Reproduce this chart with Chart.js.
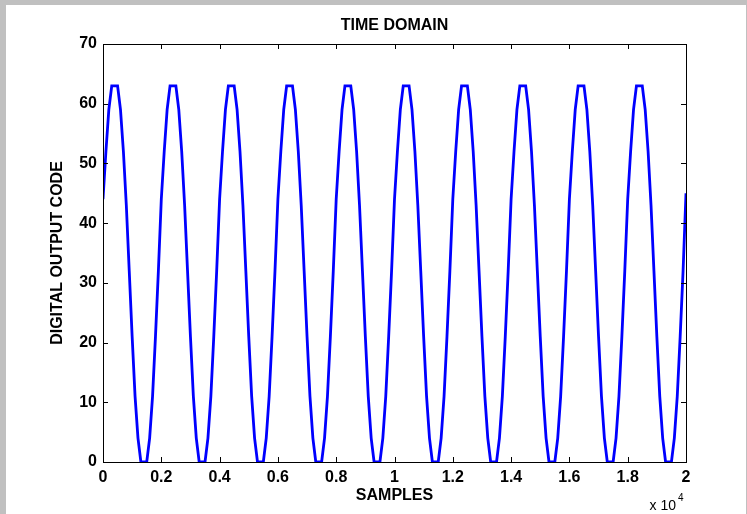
<!DOCTYPE html>
<html>
<head>
<meta charset="utf-8">
<script src="https://cdn.jsdelivr.net/npm/chart.js@4.4.1/dist/chart.umd.min.js"></script>
<style>
  html, body { margin: 0; padding: 0; }
  body { width: 747px; height: 514px; background: #c0c0c0; position: relative; overflow: hidden; }
  #wrap { position: absolute; left: 6px; top: 5px; width: 740px; height: 509px; background: #fff; }
</style>
</head>
<body>
<div id="wrap"><canvas id="grafico" width="740" height="509"></canvas></div>
<script>
// codes, one every 100 samples (10 cycles of 2000 samples)
const sampleStep = 100;
const codes = [
  44,52,59,63,63,63,59,52,43,32,21,11,4,0,0,0,4,11,21,32,
  44,52,59,63,63,63,59,52,43,32,21,11,4,0,0,0,4,11,21,32,
  44,52,59,63,63,63,59,52,43,32,21,11,4,0,0,0,4,11,21,32,
  44,52,59,63,63,63,59,52,43,32,21,11,4,0,0,0,4,11,21,32,
  44,52,59,63,63,63,59,52,43,32,21,11,4,0,0,0,4,11,21,32,
  44,52,59,63,63,63,59,52,43,32,21,11,4,0,0,0,4,11,21,32,
  44,52,59,63,63,63,59,52,43,32,21,11,4,0,0,0,4,11,21,32,
  44,52,59,63,63,63,59,52,43,32,21,11,4,0,0,0,4,11,21,32,
  44,52,59,63,63,63,59,52,43,32,21,11,4,0,0,0,4,11,21,32,
  44,52,59,63,63,63,59,52,43,32,21,11,4,0,0,0,4,11,21,32,
  45
];
const xTicks = [0, 2000, 4000, 6000, 8000, 10000, 12000, 14000, 16000, 18000, 20000];
const yTicks = [0, 10, 20, 30, 40, 50, 60, 70];
const titulo = 'TIME DOMAIN';

const fonte = 'Arial, "Liberation Sans", sans-serif';

// caixa estilo matlab, ticks para dentro, titulo e o "x 10^4"
const caixa = {
  id: 'caixa',
  afterDraw(chart) {
    const { ctx, chartArea: a, scales } = chart;
    ctx.save();
    ctx.strokeStyle = '#000';
    ctx.lineWidth = 1;
    ctx.strokeRect(Math.round(a.left) + 0.5, Math.round(a.top) + 0.5,
                   Math.round(a.right - a.left), Math.round(a.bottom - a.top));
    ctx.beginPath();
    xTicks.forEach(v => {
      const px = Math.round(scales.x.getPixelForValue(v)) + 0.5;
      ctx.moveTo(px, a.bottom); ctx.lineTo(px, a.bottom - 5);
      ctx.moveTo(px, a.top); ctx.lineTo(px, a.top + 5);
    });
    yTicks.forEach(v => {
      const py = Math.round(scales.y.getPixelForValue(v)) + 0.5;
      ctx.moveTo(a.left, py); ctx.lineTo(a.left + 5, py);
      ctx.moveTo(a.right, py); ctx.lineTo(a.right - 5, py);
    });
    ctx.stroke();

    ctx.fillStyle = '#000';
    ctx.textAlign = 'center';
    ctx.textBaseline = 'middle';
    ctx.font = 'bold 16px ' + fonte;
    ctx.fillText(titulo, (a.left + a.right) / 2, 21);

    ctx.textAlign = 'right';
    ctx.textBaseline = 'alphabetic';
    ctx.font = '14px ' + fonte;
    ctx.fillText('x 10', a.right - 10, 505);
    ctx.textAlign = 'left';
    ctx.font = '10px ' + fonte;
    ctx.fillText('4', a.right - 8, 496);
    ctx.restore();
  }
};

new Chart(document.getElementById('grafico'), {
  type: 'line',
  data: {
    datasets: [{
      data: codes.map((c, i) => ({ x: i * sampleStep, y: c })),
      borderColor: '#0000ff',
      borderWidth: 2.8,
      pointRadius: 0,
      tension: 0,
      fill: false
    }]
  },
  options: {
    responsive: false,
    animation: false,
    devicePixelRatio: 1,
    layout: { padding: { left: 0, right: 60, top: 39, bottom: 0 } },
    plugins: {
      legend: { display: false },
      tooltip: { enabled: false },
      title: { display: false }
    },
    scales: {
      x: {
        type: 'linear',
        min: 0,
        max: 20000,
        grid: { display: false, drawTicks: false },
        border: { display: false },
        afterFit(scale) { scale.height = 52; },
        afterBuildTicks(scale) { scale.ticks = xTicks.map(v => ({ value: v })); },
        ticks: {
          color: '#000',
          padding: 6,
          maxRotation: 0,
          font: { family: fonte, size: 16, weight: 'bold' },
          callback: v => String(v / 10000)
        },
        title: {
          display: true,
          text: 'SAMPLES',
          color: '#000',
          font: { family: fonte, size: 16, weight: 'bold' },
          padding: { top: 0, bottom: 9 }
        }
      },
      y: {
        min: 0,
        max: 70,
        grid: { display: false, drawTicks: false },
        border: { display: false },
        afterFit(scale) { scale.width = 97; },
        afterBuildTicks(scale) { scale.ticks = yTicks.map(v => ({ value: v })); },
        ticks: {
          color: '#000',
          padding: 6,
          font: { family: fonte, size: 16, weight: 'bold' }
        },
        title: {
          display: true,
          text: 'DIGITAL OUTPUT CODE',
          color: '#000',
          font: { family: fonte, size: 16, weight: 'bold' },
          padding: { top: 42, bottom: 0 }
        }
      }
    }
  },
  plugins: [caixa]
});
</script>
</body>
</html>
